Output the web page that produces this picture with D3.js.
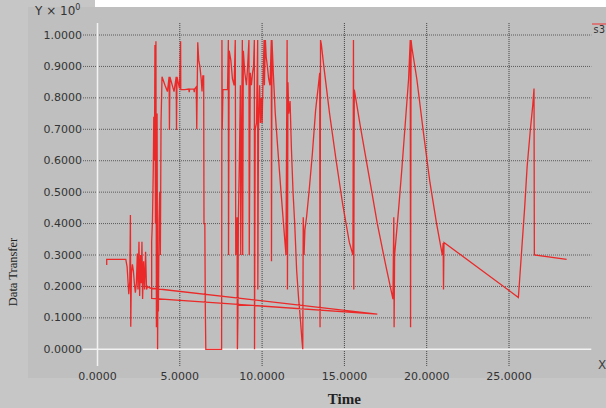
<!DOCTYPE html>
<html lang="en">
<head>
  <meta charset="UTF-8">
  <title>Data Transfer vs Time</title>
  <script src="https://d3js.org/d3.v7.min.js"></script>
  <style>
    body { margin: 0; background: #ffffff; }
    svg { display: block; }
    .tick-label { font-family: "DejaVu Sans", sans-serif; font-size: 11px; fill: #333; }
  </style>
</head>
<body>
  <div id="chart"></div>
  <script>
    // series s3 : time (x) and data transfer (y, x 10^0)
    const time = [
      0.56, 0.56, 1.72, 1.80, 1.86, 1.90, 1.96, 2.00, 2.02, 2.06, 2.12, 2.18, 2.24, 2.30, 2.36, 2.42, 2.46, 2.52,
      2.56, 2.62, 2.66, 2.70, 2.74, 2.80, 2.86, 2.92, 2.98, 3.04, 3.19, 17.0, 3.29, 3.29, 3.34, 3.39, 3.42, 3.46,
      3.49, 3.52, 3.55, 3.58, 3.62, 3.65, 3.68, 3.70, 3.74, 3.78, 3.82, 3.86, 3.92, 4.10, 4.25, 4.35, 4.37, 4.40,
      4.65, 4.78, 4.80, 4.83, 4.98, 5.05, 5.06, 5.30, 5.55, 5.57, 5.60, 5.85, 5.88, 5.90, 6.00, 6.03, 6.09, 6.15,
      6.22, 6.30, 6.35, 6.40, 6.45, 6.47, 6.52, 6.55, 6.58, 7.54, 7.56, 7.58, 7.62, 7.90, 7.95, 7.96, 8.00, 8.10,
      8.20, 8.30, 8.37, 8.40, 8.48, 8.50, 8.53, 8.56, 8.62, 8.68, 8.70, 8.80, 8.82, 8.86, 8.95, 9.05, 9.12, 9.20,
      9.22, 9.28, 9.35, 9.42, 9.48, 9.53, 9.54, 9.58, 9.66, 9.73, 9.74, 9.78, 9.85, 9.90, 9.95, 10.00, 10.05, 10.12,
      10.14, 10.20, 10.25, 10.32, 10.40, 10.48, 10.56, 10.57, 10.60, 10.68, 10.80, 10.95, 11.15, 11.30, 11.45, 11.52,
      11.54, 11.57, 11.62, 11.70, 11.78, 11.88, 11.98, 12.10, 12.22, 12.32, 12.42, 12.47, 12.50, 12.55, 12.60, 12.70,
      12.85, 13.05, 13.25, 13.42, 13.50, 13.52, 13.55, 13.60, 13.75, 14.10, 14.50, 14.90, 15.30, 15.52, 15.55, 15.57,
      15.60, 16.00, 16.50, 17.00, 17.50, 17.95, 18.00, 18.02, 18.05, 18.15, 18.30, 18.50, 18.70, 18.90, 19.00, 19.02,
      19.05, 19.10, 19.40, 19.80, 20.20, 20.60, 20.95, 21.00, 21.02, 21.05, 25.57, 25.75, 25.95, 26.10, 26.30, 26.45,
      26.52, 26.54, 28.50
    ];
    const dataTransfer = [
      0.268, 0.286, 0.286, 0.262, 0.210, 0.175, 0.215, 0.427, 0.072, 0.240, 0.270, 0.250, 0.210, 0.180, 0.210, 0.305, 0.190, 0.342,
      0.170, 0.300, 0.210, 0.342, 0.160, 0.280, 0.190, 0.310, 0.190, 0.200, 0.195, 0.112, 0.162, 0.342, 0.410, 0.576, 0.740, 0.600,
      0.968, 0.400, 0.980, 0.070, 0.750, 0.000, 0.300, 0.120, 0.410, 0.500, 0.300, 0.720, 0.867, 0.840, 0.820, 0.867, 0.698, 0.867,
      0.820, 0.867, 0.698, 0.867, 0.830, 0.980, 0.826, 0.826, 0.828, 0.818, 0.828, 0.828, 0.818, 0.828, 0.835, 0.700, 0.977, 0.920,
      0.900, 0.860, 0.820, 0.870, 0.870, 0.400, 0.400, 0.130, 0.000, 0.000, 0.984, 0.700, 0.826, 0.826, 0.984, 0.300, 0.950, 0.920,
      0.860, 0.840, 0.984, 0.300, 0.420, 0.000, 0.100, 0.420, 0.600, 0.840, 0.300, 0.984, 0.300, 0.950, 0.880, 0.840, 0.900, 0.984,
      0.300, 0.880, 0.840, 0.880, 0.900, 0.984, 0.000, 0.700, 0.720, 0.984, 0.190, 0.700, 0.840, 0.720, 0.800, 0.720, 0.840, 0.984,
      0.840, 0.984, 0.930, 0.900, 0.860, 0.840, 0.984, 0.280, 0.984, 0.880, 0.750, 0.640, 0.500, 0.400, 0.300, 0.984,
      0.190, 0.850, 0.750, 0.790, 0.640, 0.500, 0.400, 0.250, 0.160, 0.100, 0.030, 0.000, 0.420, 0.300, 0.380, 0.420,
      0.500, 0.620, 0.760, 0.840, 0.880, 0.070, 0.984, 0.970, 0.900, 0.750, 0.600, 0.460, 0.340, 0.300, 0.984, 0.190,
      0.826, 0.700, 0.550, 0.400, 0.270, 0.160, 0.420, 0.070, 0.300, 0.360, 0.450, 0.580, 0.720, 0.860, 0.984, 0.070,
      0.984, 0.960, 0.860, 0.690, 0.530, 0.400, 0.300, 0.338, 0.190, 0.340, 0.165, 0.300, 0.450, 0.580, 0.700, 0.780,
      0.830, 0.300, 0.286
    ];
    // the two long return strokes toward t = 17
    const returnTime = [3.19, 17.0, 3.29];

    const xTicks = [0, 5, 10, 15, 20, 25];
    const yTicks = [0, 0.1, 0.2, 0.3, 0.4, 0.5, 0.6, 0.7, 0.8, 0.9, 1.0];

    const W = 606, H = 408;
    const svg = d3.select("#chart").append("svg")
      .attr("width", W).attr("height", H);

    const x = d3.scaleLinear().domain([0, 30]).range([97.5, 591.3]);
    const y = d3.scaleLinear().domain([0, 1]).range([349.3, 35]);

    // backgrounds
    svg.append("rect").attr("x", 0).attr("y", 0).attr("width", W).attr("height", H).attr("fill", "#c6c6c6");
    svg.append("rect").attr("x", 95).attr("y", 0).attr("width", W - 95).attr("height", 7).attr("fill", "#ffffff");
    svg.append("rect").attr("x", 28).attr("y", 7).attr("width", W - 28).attr("height", 371).attr("fill", "#bfbfbf");

    const yTop = y(1.038), yBot = y(-0.053);
    const fmt = d3.format(".4f");

    // horizontal grid (dotted), extends left as tick marks
    svg.append("g").selectAll("line")
      .data(yTicks.filter(d => d > 0))
      .enter().append("line")
      .attr("x1", 83).attr("x2", x(30))
      .attr("y1", d => y(d)).attr("y2", d => y(d))
      .attr("stroke", "#5a5a5a").attr("stroke-width", 1)
      .attr("stroke-dasharray", "1,1");

    // vertical grid (dotted)
    svg.append("g").selectAll("line")
      .data(xTicks.filter(d => d > 0))
      .enter().append("line")
      .attr("x1", d => x(d)).attr("x2", d => x(d))
      .attr("y1", yTop).attr("y2", yBot)
      .attr("stroke", "#404040").attr("stroke-width", 1)
      .attr("stroke-dasharray", "1,1");

    // axis lines (white)
    svg.append("line").attr("x1", 83).attr("x2", x(30)).attr("y1", y(0)).attr("y2", y(0))
      .attr("stroke", "#f2f2f2").attr("stroke-width", 1.5);
    svg.append("line").attr("x1", x(0)).attr("x2", x(0)).attr("y1", yTop).attr("y2", yBot)
      .attr("stroke", "#f2f2f2").attr("stroke-width", 1.5);

    // tick labels
    svg.append("g").selectAll("text")
      .data(yTicks)
      .enter().append("text")
      .attr("class", "tick-label")
      .attr("x", 82).attr("y", d => y(d))
      .attr("text-anchor", "end").attr("dominant-baseline", "central")
      .text(d => fmt(d));

    svg.append("g").selectAll("text")
      .data(xTicks)
      .enter().append("text")
      .attr("class", "tick-label")
      .attr("x", d => x(d)).attr("y", 376)
      .attr("text-anchor", "middle").attr("dominant-baseline", "central")
      .text(d => fmt(d));

    // data line
    const pts = time.map((t, i) => [t, dataTransfer[i]]);
    const line = d3.line().x(d => x(d[0])).y(d => y(d[1]));
    svg.append("path")
      .datum(pts)
      .attr("d", line)
      .attr("fill", "none")
      .attr("stroke", "#f01818")
      .attr("stroke-width", 1.3)
      .attr("stroke-linejoin", "miter")
      .attr("stroke-opacity", 0.9);

    // axis titles
    svg.append("text")
      .attr("x", 35).attr("y", 15)
      .attr("font-family", "DejaVu Sans, sans-serif").attr("font-size", 12).attr("fill", "#333")
      .text("Y × 10")
      .append("tspan").attr("dy", -5).attr("font-size", 8).text("0");

    svg.append("text")
      .attr("x", 598).attr("y", 369)
      .attr("font-family", "DejaVu Sans, sans-serif").attr("font-size", 12).attr("fill", "#444")
      .text("X");

    svg.append("text")
      .attr("x", x(15)).attr("y", 399)
      .attr("text-anchor", "middle").attr("dominant-baseline", "central")
      .attr("font-family", "Liberation Serif, serif").attr("font-weight", "bold").attr("font-size", 15)
      .attr("fill", "#222")
      .text("Time");

    svg.append("text")
      .attr("transform", "translate(13,272) rotate(-90)")
      .attr("text-anchor", "middle").attr("dominant-baseline", "central")
      .attr("font-family", "Liberation Serif, serif").attr("font-size", 12.5)
      .attr("fill", "#222")
      .text("Data Transfer");

    // legend
    svg.append("line").attr("x1", 592).attr("x2", W).attr("y1", 24).attr("y2", 24)
      .attr("stroke", "#e06060").attr("stroke-width", 1.5);
    svg.append("text")
      .attr("x", 593).attr("y", 32.5)
      .attr("font-family", "DejaVu Sans Mono, monospace").attr("font-size", 10).attr("fill", "#333")
      .text("s3");
  </script>
</body>
</html>
